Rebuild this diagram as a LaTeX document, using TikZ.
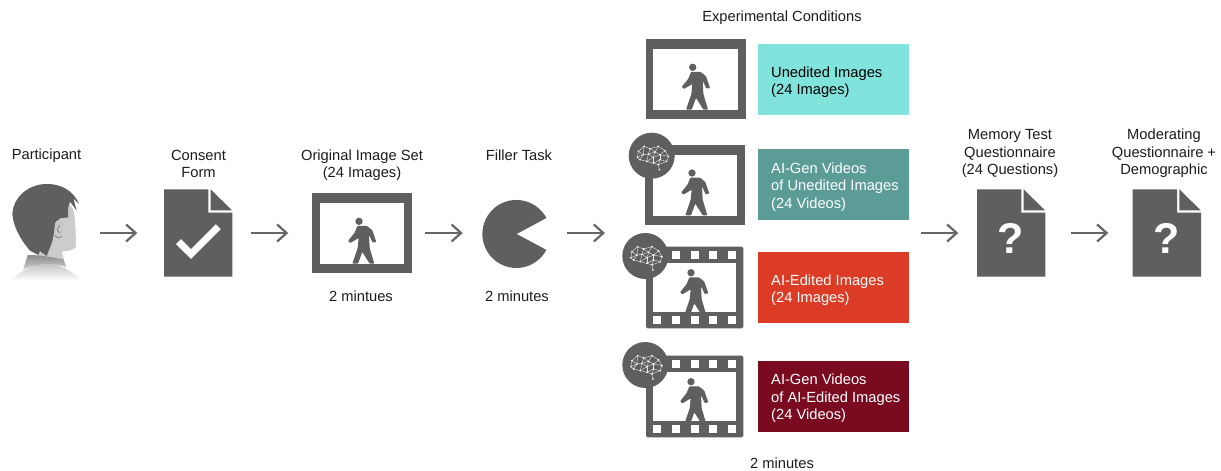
\documentclass[tikz,border=0pt]{standalone}
\usepackage{fontspec}
\setmainfont{Liberation Sans}
\usetikzlibrary{arrows.meta}
\definecolor{ink}{HTML}{5F5F5F}
\definecolor{txt}{HTML}{1C1C1C}
\definecolor{arrowc}{HTML}{666666}
\definecolor{swA}{HTML}{80E3DC}
\definecolor{swB}{HTML}{5B9C96}
\definecolor{swC}{HTML}{DC3B26}
\definecolor{swD}{HTML}{790A20}
\tikzset{
  label/.style={font=\fontsize{14.7}{17.4}\selectfont,text=txt,align=center,inner sep=0pt},
  swlabel/.style={font=\fontsize{14.7}{17.4}\selectfont,align=left,anchor=west,inner sep=0pt},
  iconbox/.style={inner sep=0pt,outer sep=0pt,minimum width=#1},
  swatch/.style={fill=#1,inner sep=0,outer sep=0,minimum width=151pt,minimum height=70.7pt},
  flow/.style={draw=arrowc,line width=2.2pt,-{Straight Barb[length=9.5pt,width=17pt,line width=2.2pt]}},
  qmark/.style={font=\fontsize{43}{43}\bfseries\selectfont,text=white,inner sep=0pt}
}
% walker: origin at the head centre, units of 1/3 px
\newcommand{\walker}[2]{%
  \begin{scope}[shift={(#1,#2)},scale=1/3]
    \fill[ink] (0,0) circle (11);
    \fill[ink,rounded corners=0.8pt] (-5,14) -- (24,14) -- (40,27) -- (52,62) -- (41,64) -- (30,40) -- (32,80)
      -- (46,127) -- (32,127) -- (10,92) -- (-3,127) -- (-20,127) -- (-4,80) -- (-1,50)
      -- (-26,65) -- (-33,59) -- (-13,34) -- cycle;
  \end{scope}}
% plain picture frame
\newcommand{\frameicon}[2]{%
  \fill[ink] (#1,#2) rectangle +(100,80);
  \fill[white] (#1+7.6,#2+9.7) rectangle +(84.4,61);
  \walker{#1+47}{#2+28}}
% film strip
\newcommand{\filmicon}[2]{%
  \fill[ink,rounded corners=1.5pt] (#1,#2) rectangle +(97.3,81.6);
  \fill[white] (#1+7.3,#2+16.6) rectangle +(82.7,48.4);
  \foreach \sx in {11.3,30,48.7,67.3,86}{\fill[white] (#1+\sx-4,#2+69) rectangle +(8,8);}
  \foreach \sx in {30,48.7,67.3,86}{\fill[white] (#1+\sx-4,#2+4.3) rectangle +(8,8);}
  \begin{scope}
    \clip (#1+7.3,#2+16.6) rectangle +(82.7,48.4);
    \walker{#1+45}{#2+26}
  \end{scope}}
% brain badge
\newcommand{\brain}[2]{%
  \fill[ink] (#1,#2) circle (23);
  \begin{scope}[shift={(#1,#2)},scale=1/3]
    \foreach \n/\p in {a/{-43,5},b/{-40,-13},c/{-23,-28},d/{-5,-21},e/{20,-28},f/{40,-15},g/{50,2},h/{45,17},
      i/{25,12},j/{5,22},k/{23,42},l/{20,27},m/{-15,17},o/{-25,-3},q/{-10,-5},r/{10,-11},s/{25,-3},t/{5,5},u/{-35,12}}
      {\coordinate (\n) at (\p);}
    \foreach \u/\v in {a/b,b/c,c/d,d/e,e/f,f/g,g/h,h/i,i/j,j/l,l/k,l/i,a/u,u/m,m/j,o/a,o/b,o/c,o/q,q/d,q/r,r/d,r/e,r/s,s/f,s/g,s/i,t/q,t/r,t/s,t/j,t/m,m/q,o/u,h/l}
      {\draw[white!85!ink,line width=0.4pt] (\u)--(\v);}
    \foreach \n in {a,b,c,d,e,f,g,h,i,j,k,l,m,o,q,r,s,t,u}{\fill[white] (\n) circle (2.7);}
  \end{scope}}
% document outline
\newcommand{\docicon}[2]{%
  \fill[ink] (#1,#2) -- ++(44.3,0) -- ++(0,23.4) -- ++(24,0) -- ++(0,64) -- ++(-68.3,0) -- cycle;
  \fill[ink] (#1+46.6,#2) -- (#1+68,#2+21) -- (#1+46.6,#2+21) -- cycle;}
\begin{document}
\begin{tikzpicture}[x=1pt,y=-1pt]
\useasboundingbox (0,0) rectangle (1221,471);
\fill[white] (0,0) rectangle (1221,471);

% --- participant ---
\begin{scope}[shift={(5,180)},scale=1/3]
  \shade[top color=black!24,bottom color=white] (15,302) .. controls (50,270) and (90,250) .. (125,250)
     .. controls (170,252) and (200,275) .. (230,302) -- cycle;
  \fill[black!20] (185,55) -- (205,90) .. controls (212,120) and (212,150) .. (213,200)
     .. controls (205,212) and (190,212) .. (170,215) -- (178,242) -- (100,232) -- (130,100) -- cycle;
  \shade[top color=black!45,bottom color=black!20] (55,268) -- (68,225) -- (100,226) -- (130,230) -- (175,238) -- (185,262)
     .. controls (140,245) and (95,250) .. (55,268) -- cycle;
  \fill[ink] (22,100) .. controls (25,55) and (65,15) .. (120,12) .. controls (165,10) and (205,30) .. (222,72)
     -- (205,55) -- (215,92) -- (195,65) .. controls (188,80) and (188,95) .. (190,112)
     -- (165,115) .. controls (150,125) and (148,150) .. (145,170) .. controls (142,190) and (135,200) .. (125,228)
     -- (105,213) -- (100,225) -- (75,212) .. controls (60,195) and (25,150) .. (22,100) -- cycle;
  \fill[black!22] (150,130) .. controls (155,118) and (168,115) .. (174,130) .. controls (178,150) and (170,175) .. (158,176) .. controls (150,175) and (146,165) .. (150,130) -- cycle;
  \draw[ink,line width=0.45pt] (165,135) .. controls (155,145) and (155,155) .. (165,158);
  \draw[ink,line width=0.45pt] (150,165) .. controls (155,176) and (165,176) .. (170,168);
\end{scope}
\node[iconbox=70pt,minimum height=90pt] (part) at (48,233) {};
\node[label] (partl) at (46.5,155.5) {Participant};

% --- consent ---
\docicon{164}{189.3}
\node[iconbox=68.3pt,minimum height=87.4pt] (consent) at (198.15,233) {};
\draw[white,line width=7pt] (178.5,241.7) -- (191,254) -- (218.3,226.7);
\node[label] (consentl) at (198.5,164) {Consent\\Form};

% --- original image set ---
\frameicon{312}{193.3}
\node[iconbox=99.7pt,minimum height=79.4pt] (orig) at (361.85,233) {};
\node[label] (origl) at (362,165) {Original Image Set\\(24 Images)};
\node[label] (origt) at (361,296) {2 mintues};

% --- filler task ---
\fill[ink] (516.7,234) -- (546.4,218) arc[start angle=-28,end angle=-332,radius=34] -- cycle;
\node[iconbox=67.4pt,minimum height=67pt] (pac) at (516,233) {};
\node[label] (pacl) at (519,155.5) {Filler Task};
\node[label] (pact) at (517,296) {2 minutes};

% --- experimental conditions ---
\node[label] (condl) at (782,17.5) {Experimental Conditions};
\frameicon{645.7}{39.3}
\node[swatch=swA] (s1) at (833.5,79.35) {};
\node[swlabel,text=black] at (771,82) {Unedited Images\\(24 Images)};

\frameicon{645}{145}
\brain{651.7}{155.7}
\node[swatch=swB] (s2) at (833.5,184.65) {};
\node[swlabel,text=white] at (771,187) {AI-Gen Videos\\of Unedited Images\\(24 Videos)};

\filmicon{646}{246.7}
\brain{645.3}{256}
\node[swatch=swC] (s3) at (833.5,287.35) {};
\node[swlabel,text=white] at (771,290) {AI-Edited Images\\(24 Images)};

\filmicon{646}{355.7}
\brain{645.3}{365}
\node[swatch=swD] (s4) at (833.5,396.35) {};
\node[swlabel,text=white] at (771,398.5) {AI-Gen Videos\\of AI-Edited Images\\(24 Videos)};

\node[iconbox=286pt,minimum height=10pt] (cond) at (766,233) {};
\node[label] (condt) at (782,463) {2 minutes};

% --- memory test ---
\docicon{977}{189.3}
\node[iconbox=68.3pt,minimum height=87.4pt] (mem) at (1011.15,233) {};
\node[qmark] at (1011,238) {?};
\node[label] (meml) at (1010,153.5) {Memory Test\\Questionnaire\\(24 Questions)};

% --- moderating ---
\docicon{1132.7}{189.3}
\node[iconbox=68.3pt,minimum height=87.4pt] (mod) at (1166.85,233) {};
\node[qmark] at (1166.5,238) {?};
\node[label] (modl) at (1164,153.5) {Moderating\\Questionnaire +\\Demographic};

% --- connectors ---
\draw[flow,shorten <=17pt,shorten >=26.7pt] (part) -- (consent);
\draw[flow,shorten <=18.4pt,shorten >=23.7pt] (consent) -- (orig);
\draw[flow,shorten <=13.3pt,shorten >=19.6pt] (orig) -- (pac);
\draw[flow,shorten <=17.6pt,shorten >=18pt] (pac) -- (cond);
\draw[flow,shorten <=12pt,shorten >=18.7pt] (cond) -- (mem);
\draw[flow,shorten <=25.4pt,shorten >=24.4pt] (mem) -- (mod);
\end{tikzpicture}
\end{document}
